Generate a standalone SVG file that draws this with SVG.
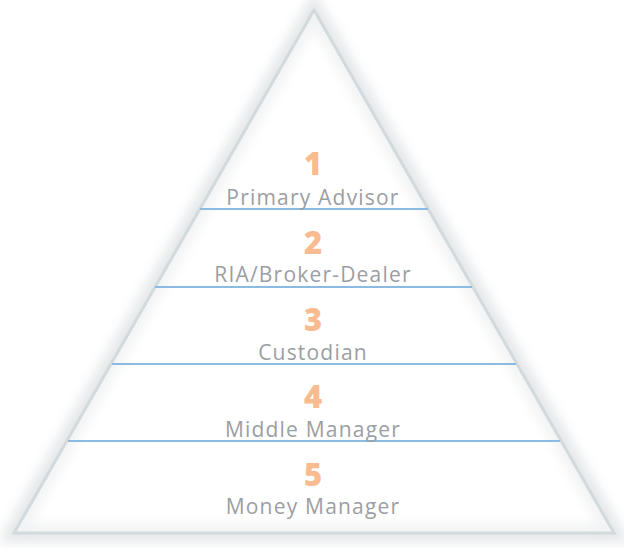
<svg xmlns="http://www.w3.org/2000/svg" width="624" height="548" viewBox="0 0 624 548">
  <defs>
    <filter id="soft" x="-10%" y="-10%" width="120%" height="120%">
      <feGaussianBlur stdDeviation="6"/>
    </filter>
  </defs>
  <style>
    .num { font-family: "Open Sans", "Noto Sans", sans-serif; font-weight: 800; font-size: 31px; fill: #f9bc90; text-anchor: middle; }
    .lbl { font-family: "Open Sans", "Noto Sans", sans-serif; font-size: 21px; letter-spacing: 1.2px; fill: #9b9ea3; text-anchor: middle; }
    .rule { stroke: #8bbbe2; stroke-width: 2; }
  </style>

  <rect width="624" height="548" fill="#ffffff"/>

  <!-- pyramid body with soft shading along the sides -->
  <g id="pyramid">
    <polygon points="314,10 14,533 614,533" fill="none" stroke="#c4c8cc" stroke-width="18" opacity="0.45" filter="url(#soft)"/>
    <polygon points="314,10 14,533 614,533" fill="#ffffff" opacity="0.5"/>
    <polygon points="314,10 14,533 614,533" fill="none" stroke="#d2dade" stroke-width="3"/>
  </g>

  <!-- tier dividers -->
  <g id="connectors">
    <line class="rule" x1="200" y1="209" x2="428" y2="209"/>
    <line class="rule" x1="155" y1="287" x2="472" y2="287"/>
    <line class="rule" x1="112" y1="364" x2="516" y2="364"/>
    <line class="rule" x1="68" y1="441" x2="560" y2="441"/>
  </g>

  <g id="tier1">
    <text class="num" x="313" y="175">1</text>
    <text class="lbl" x="313" y="205">Primary Advisor</text>
  </g>
  <g id="tier2">
    <text class="num" x="313" y="254">2</text>
    <text class="lbl" x="313" y="282">RIA/Broker-Dealer</text>
  </g>
  <g id="tier3">
    <text class="num" x="313" y="331">3</text>
    <text class="lbl" x="313" y="360">Custodian</text>
  </g>
  <g id="tier4">
    <text class="num" x="313" y="408">4</text>
    <text class="lbl" x="313" y="437">Middle Manager</text>
  </g>
  <g id="tier5">
    <text class="num" x="313" y="486">5</text>
    <text class="lbl" x="313" y="514">Money Manager</text>
  </g>
</svg>
